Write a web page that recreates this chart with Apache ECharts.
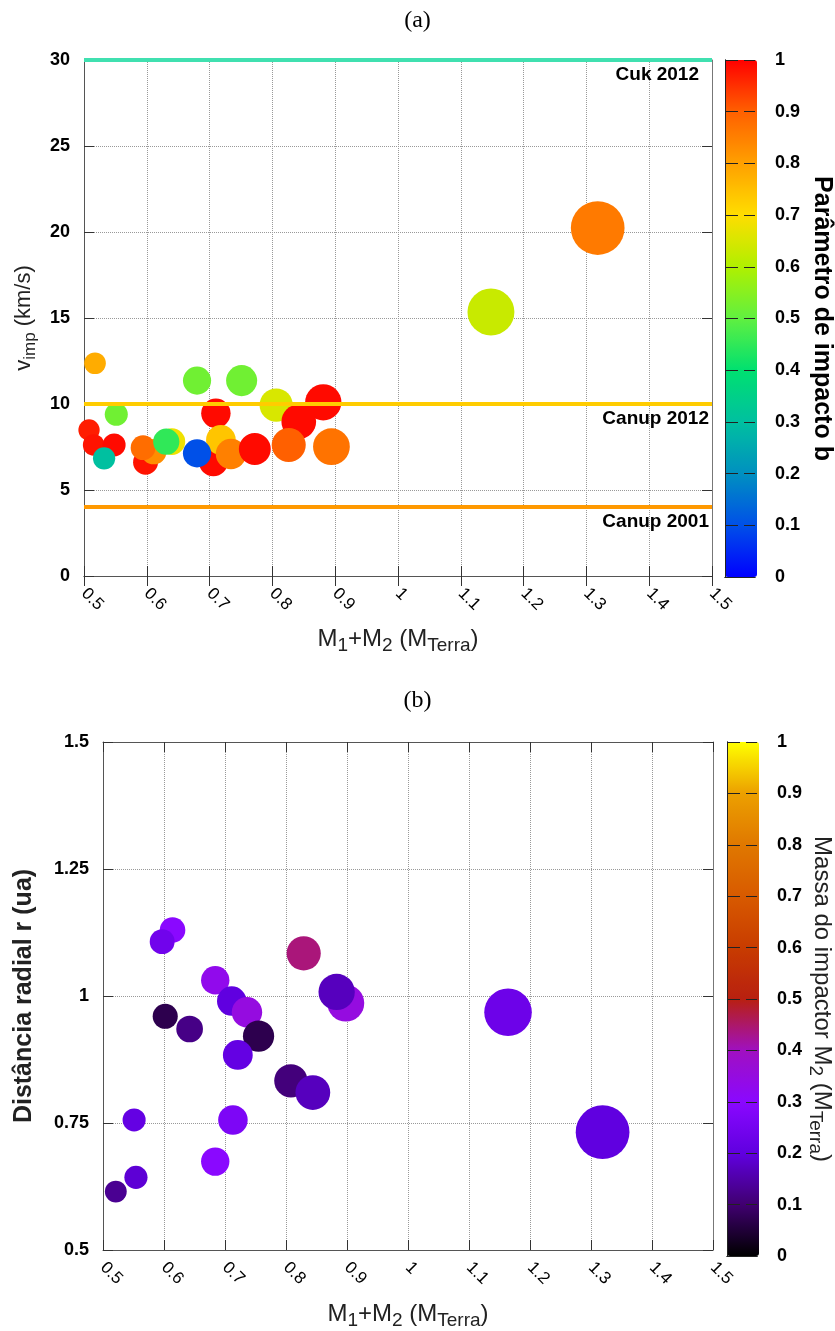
<!DOCTYPE html>
<html><head><meta charset="utf-8">
<script src="https://cdn.jsdelivr.net/npm/echarts@6/dist/echarts.min.js"></script>
<style>html,body{margin:0;padding:0;background:#fff}#c{width:835px;height:1331px}</style>
</head><body><div id="c"></div>
<script>
// ---- Panel (a): impact velocity vs total mass, colour = impact parameter b
const massA = [0.508, 0.5154, 0.548, 0.532, 0.5175, 0.5514, 0.598, 0.611, 0.594, 0.640, 0.631, 0.680, 0.751, 0.710, 0.706, 0.718, 0.680, 0.734, 0.772, 0.806, 0.881, 0.842, 0.826, 0.894, 1.148, 1.318];
const vimpA = [8.49, 7.62, 7.62, 6.84, 12.37, 9.40, 6.61, 7.23, 7.46, 7.81, 7.81, 11.36, 11.36, 9.46, 6.65, 7.91, 7.13, 7.09, 7.38, 9.94, 10.10, 8.97, 7.62, 7.52, 15.35, 20.23];
const bA    = [0.97, 0.98, 0.99, 0.30, 0.78, 0.52, 0.98, 0.83, 0.88, 0.68, 0.45, 0.52, 0.52, 0.99, 0.99, 0.74, 0.10, 0.85, 0.99, 0.65, 0.99, 0.99, 0.90, 0.87, 0.63, 0.86];
// ---- Panel (b): radial distance vs total mass, colour = impactor mass M2
const massB = [0.614, 0.597, 0.829, 0.684, 0.711, 0.736, 0.755, 0.898, 0.883, 0.602, 0.642, 0.721, 0.808, 0.844, 0.551, 0.713, 0.684, 0.554, 0.521, 1.164, 1.319];
const rB    = [1.130, 1.107, 1.084, 1.031, 0.990, 0.968, 0.921, 0.986, 1.008, 0.960, 0.935, 0.884, 0.833, 0.810, 0.756, 0.756, 0.674, 0.643, 0.615, 0.968, 0.732];
const m2B   = [0.30, 0.24, 0.44, 0.33, 0.20, 0.35, 0.07, 0.35, 0.17, 0.07, 0.12, 0.21, 0.11, 0.17, 0.21, 0.27, 0.30, 0.19, 0.13, 0.23, 0.20];
// ---- reference velocities
const refValues = [30, 10, 4];
const refNames = ['Cuk 2012', 'Canup 2012', 'Canup 2001'];

const jetColors = ['#0000ff','#0050e8','#0090c0','#00c0a0','#00e070','#60f040','#b0f000','#ffdd00','#ffa000','#ff6000','#ff0000'];
const massColors = ['#000000','#400070','#6000e0','#8a08ff','#a010c0','#b82010','#c83c00','#d85a00','#e07800','#eca000','#ffff00'];
const refColors = ['#40e0b0', '#ffcc00', '#ff9900'];
const refLabelDist = [[13, 5], [3, 5], [3, 5]];

const FF = 'Liberation Sans';
const dataA = massA.map((m, i) => [m, vimpA[i], bA[i]]);
const dataB = massB.map((m, i) => [m, rB[i], m2B[i]]);

function makeRich(F, S, bold, pad) {
  return {
    n: {fontSize: F, fontFamily: FF, color: '#222', fontWeight: bold ? 'bold' : 'normal', lineHeight: F, verticalAlign: 'top'},
    s: {fontSize: S, fontFamily: FF, color: '#222', fontWeight: bold ? 'bold' : 'normal', lineHeight: S, verticalAlign: 'top', padding: [pad, 0, 0, 0]}
  };
}
const massName = '{n|M}{s|1}{n|+M}{s|2}{n| (M}{s|Terra}{n|)}';

function mainX(grid, name, gap) {
  return [{
    gridIndex: grid, type: 'value', min: 0.5, max: 1.5, interval: 0.1, position: 'bottom',
    name: name, nameLocation: 'middle', nameGap: gap,
    nameTextStyle: {rich: makeRich(24, 19, false, 9)},
    axisLine: {lineStyle: {color: '#555'}},
    axisTick: {inside: true, length: 10, lineStyle: {color: '#333'}},
    axisLabel: {rotate: -45, margin: 15, fontSize: 17, fontFamily: FF, color: '#000'},
    splitLine: {show: true, lineStyle: {type: 'dotted', color: '#999'}}
  }, {
    gridIndex: grid, type: 'value', min: 0.5, max: 1.5, interval: 0.1, position: 'top',
    axisLine: {lineStyle: {color: '#555'}},
    axisTick: {inside: true, length: 10, lineStyle: {color: '#333'}},
    axisLabel: {show: false}, splitLine: {show: false}
  }];
}
function mainY(grid, min, max, interval, name, nameGap, rich) {
  return [{
    gridIndex: grid, type: 'value', min: min, max: max, interval: interval, position: 'left',
    name: name, nameLocation: 'middle', nameGap: nameGap, nameTextStyle: {rich: rich},
    axisLine: {show: true, lineStyle: {color: '#555'}},
    axisTick: {show: true, inside: true, length: 10, lineStyle: {color: '#333'}},
    axisLabel: {margin: 14, fontSize: 18, fontWeight: 'bold', fontFamily: FF, color: '#000'},
    splitLine: {show: true, lineStyle: {type: 'dotted', color: '#999'}}
  }, {
    gridIndex: grid, type: 'value', min: min, max: max, interval: interval, position: 'right',
    axisLine: {show: true, lineStyle: {color: '#777'}},
    axisTick: {show: true, inside: true, length: 10, lineStyle: {color: '#333'}},
    axisLabel: {show: false}, splitLine: {show: false}
  }];
}
function barX(grid) {
  return ['bottom', 'top'].map(p => ({
    gridIndex: grid, type: 'value', min: 0, max: 1, position: p, z: 10,
    axisLine: {show: true, lineStyle: {color: '#222'}}, axisTick: {show: false},
    axisLabel: {show: false}, splitLine: {show: false}
  }));
}
function barY(grid, name, nameStyle, gap) {
  return [{
    gridIndex: grid, type: 'value', min: 0, max: 1, interval: 0.1, position: 'left', z: 10,
    axisLine: {show: true, lineStyle: {color: '#222'}}, axisTick: {show: false},
    axisLabel: {show: false}, splitLine: {show: false}
  }, {
    gridIndex: grid, type: 'value', min: 0, max: 1, interval: 0.1, position: 'right', z: 10,
    name: name, nameLocation: 'middle', nameRotate: -90, nameGap: gap, nameTextStyle: nameStyle,
    axisLine: {show: true, lineStyle: {color: '#222'}}, axisTick: {show: false},
    axisLabel: {margin: 20, fontSize: 18, fontWeight: 'bold', fontFamily: FF, color: '#000'},
    splitLine: {show: true, lineStyle: {type: [13, 6], color: '#222', width: 1}}
  }];
}

const chart = echarts.init(document.getElementById('c'), null, {renderer: 'canvas'});
chart.setOption({
  backgroundColor: '#fff',
  animation: false,
  title: [
    {text: '(a)', left: 'center', top: 4, textStyle: {fontFamily: 'Liberation Serif', fontSize: 24, fontWeight: 'normal', color: '#000'}},
    {text: '(b)', left: 'center', top: 684, textStyle: {fontFamily: 'Liberation Serif', fontSize: 24, fontWeight: 'normal', color: '#000'}}
  ],
  grid: [
    {left: 84, top: 60, width: 628, height: 516},
    {left: 103, top: 742, width: 610, height: 514},
    {left: 725, top: 60, width: 32, height: 517},
    {left: 727, top: 742, width: 32, height: 514}
  ],
  xAxis: [].concat(mainX(0, massName, 51), mainX(1, massName, 52), barX(2), barX(3)),
  yAxis: [].concat(
    mainY(0, 0, 30, 5, '{n|v}{s|imp}{n| (km/s)}', 48, makeRich(22, 17, false, 9)),
    mainY(1, 0.5, 1.5, 0.25, '{n|Distância radial r (ua)}', 66, makeRich(25, 19, true, 9)),
    barY(2, 'Parâmetro de impacto b', {fontSize: 25, fontWeight: 'bold', fontFamily: FF, color: '#000'}, 54),
    barY(3, '{n|Massa do impactor M}{s|2}{n| (M}{s|Terra}{n|)}', {rich: makeRich(24, 19, false, 9)}, 50)
  ),
  visualMap: [
    {type: 'continuous', seriesIndex: 0, dimension: 2, min: 0, max: 1, calculable: false,
     inRange: {color: jetColors}, itemWidth: 32, itemHeight: 517, left: 725, top: 60, padding: 0, text: null, hoverLink: false},
    {type: 'continuous', seriesIndex: 1, dimension: 2, min: 0, max: 1, calculable: false,
     inRange: {color: massColors}, itemWidth: 32, itemHeight: 514, left: 727, top: 742, padding: 0, text: null, hoverLink: false}
  ],
  series: [
    {type: 'scatter', xAxisIndex: 0, yAxisIndex: 0, data: dataA,
     symbolSize: v => 40 * v[0] + 1, itemStyle: {opacity: 1},
     markLine: {silent: true, symbol: ['none', 'none'], animation: false,
       data: refValues.map((v, i) => ({
         yAxis: v, name: refNames[i],
         lineStyle: {color: refColors[i], width: 4, type: 'solid'},
         label: {show: true, position: 'insideEndBottom', formatter: '{b}', distance: refLabelDist[i],
                 color: '#000', fontWeight: 'bold', fontSize: 19, fontFamily: FF}
       }))}},
    {type: 'scatter', xAxisIndex: 2, yAxisIndex: 2, data: dataB,
     symbolSize: v => 40 * v[0] + 1, itemStyle: {opacity: 1}}
  ]
});
</script></body></html>
